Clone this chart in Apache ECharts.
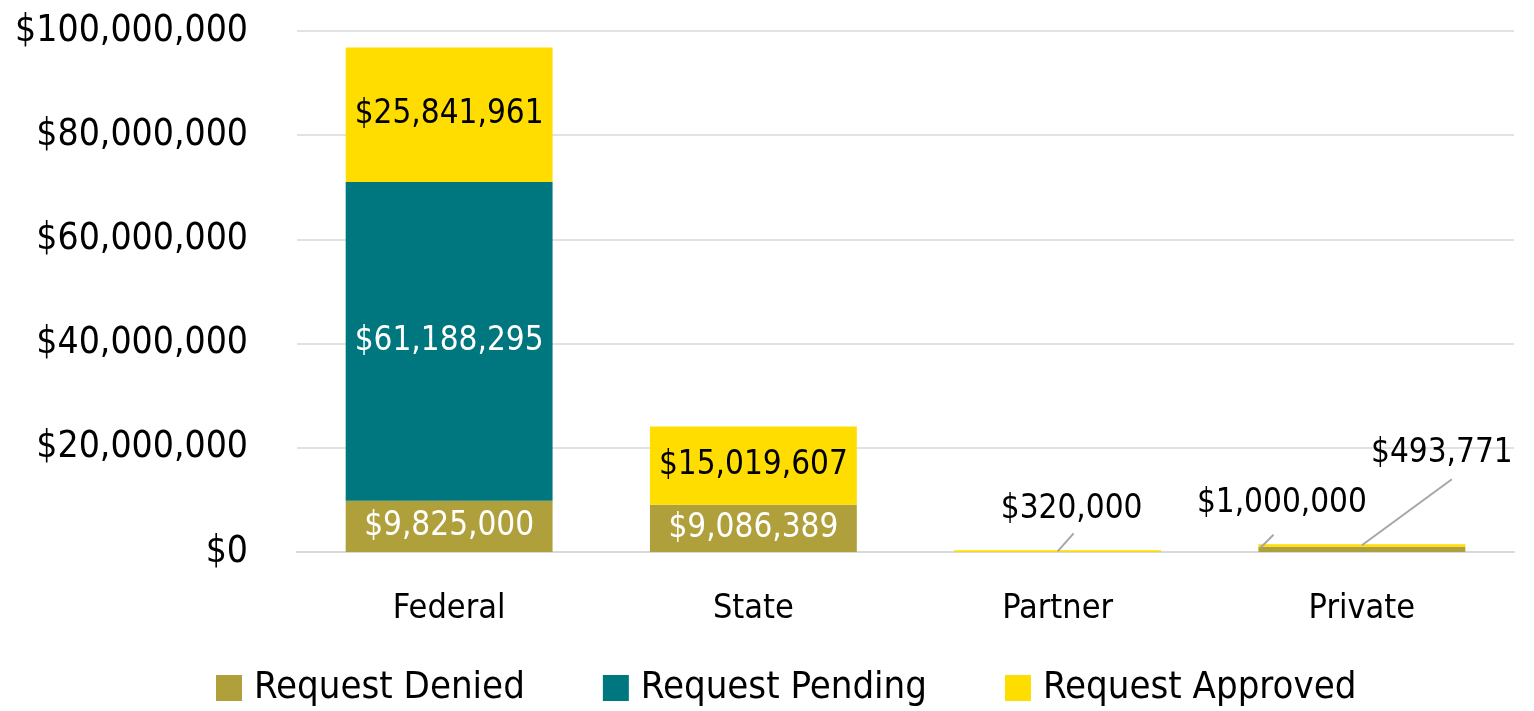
<!DOCTYPE html>
<html>
<head>
<meta charset="utf-8">
<script src="https://cdn.jsdelivr.net/npm/echarts@6/dist/echarts.min.js"></script>
<style>
  html, body { margin: 0; padding: 0; background: #fff; }
  #chart { width: 1534px; height: 711px; }
</style>
</head>
<body>
<div id="chart"></div>
<script>
// 数据
const categories = ['Federal', 'State', 'Partner', 'Private'];
const deniedData = [9825000, 9086389, null, 1000000];
const pendingData = [61188295, null, null, null];
const approvedData = [25841961, 15019607, 320000, 493771];
const yTicks = { min: 0, max: 100000000, interval: 20000000 };

const FONT = '"Liberation Sans Narrow", "DejaVu Sans Condensed", sans-serif';
const allSeries = [deniedData, pendingData, approvedData];

function money(v) {
  return '$' + Math.round(v).toLocaleString('en-US');
}

// 小数值的标签挪到柱子上方，带引导线
// fx: 引导线起点相对柱中心的位置（柱宽比例），lx/ly: 引导线长度（像素）
const moved = {
  '0-3': { dx: -80, dy: -23, fx: -0.49, lx: 13, ly: -13 },
  '2-2': { dx: 14, dy: -20, fx: 0, lx: 16, ly: -18 },
  '2-3': { dx: 80, dy: -70, fx: 0, lx: 90, ly: -66 }
};
const BAR_RATIO = 0.68;

function makeData(arr, seriesIdx) {
  return arr.map((v, i) => {
    if (moved[seriesIdx + '-' + i]) {
      return { value: v, label: { position: 'top', color: '#000', distance: 4 } };
    }
    return v;
  });
}

let chart = echarts.init(document.getElementById('chart'));
let option = {
  animation: false,
  textStyle: { fontFamily: FONT },
  grid: { left: 297, right: 20, top: 31, bottom: 159, outerBoundsMode: 'none' },
  legend: {
    top: 664,
    left: 211,
    icon: 'rect',
    itemWidth: 26,
    itemHeight: 26,
    itemGap: 78,
    textStyle: { fontSize: 38, color: '#000', fontFamily: FONT, padding: [0, 0, 0, 7] },
    data: ['Request Denied', 'Request Pending', 'Request Approved']
  },
  xAxis: {
    type: 'category',
    data: categories,
    axisLine: { lineStyle: { color: '#d9d9d9', width: 2 } },
    axisTick: { show: false },
    axisLabel: { fontSize: 34, color: '#000', margin: 40, fontFamily: FONT }
  },
  yAxis: {
    type: 'value',
    min: yTicks.min,
    max: yTicks.max,
    interval: yTicks.interval,
    axisLine: { show: false },
    axisTick: { show: false },
    splitLine: { lineStyle: { color: '#d9d9d9', width: 1.5 } },
    axisLabel: {
      fontSize: 37, color: '#000', margin: 49, fontFamily: FONT,
      formatter: v => money(v)
    }
  },
  labelLayout: function (p) {
    let m = moved[p.seriesIndex + '-' + p.dataIndex];
    if (!m) return {};
    return { dx: m.dx, dy: m.dy };
  },
  series: [
    {
      name: 'Request Denied',
      type: 'bar',
      stack: 'total',
      barWidth: (BAR_RATIO * 100) + '%',
      itemStyle: { color: '#B0A03C' },
      label: { show: true, position: 'inside', color: '#fff', fontSize: 33, formatter: p => money(p.value) },
      data: makeData(deniedData, 0)
    },
    {
      name: 'Request Pending',
      type: 'bar',
      stack: 'total',
      itemStyle: { color: '#00777E' },
      label: { show: true, position: 'inside', color: '#fff', fontSize: 33, formatter: p => money(p.value) },
      data: makeData(pendingData, 1)
    },
    {
      name: 'Request Approved',
      type: 'bar',
      stack: 'total',
      itemStyle: { color: '#FFDD00' },
      label: { show: true, position: 'inside', color: '#000', fontSize: 33, formatter: p => money(p.value) },
      data: makeData(approvedData, 2)
    }
  ]
};
chart.setOption(option);

// 引导线：用坐标轴换算出柱顶位置
function leaderLines() {
  let p0 = chart.convertToPixel({ gridIndex: 0 }, [0, 0]);
  let p1 = chart.convertToPixel({ gridIndex: 0 }, [1, 0]);
  let band = p1[0] - p0[0];
  let elements = [];
  Object.keys(moved).forEach(key => {
    let [s, i] = key.split('-').map(Number);
    let top = 0;
    for (let k = 0; k <= s; k++) top += allSeries[k][i] || 0;
    let pt = chart.convertToPixel({ gridIndex: 0 }, [i, top]);
    let m = moved[key];
    let x1 = pt[0] + m.fx * band * BAR_RATIO;
    let y1 = pt[1] + 1;
    elements.push({
      type: 'line',
      shape: { x1: x1, y1: y1, x2: x1 + m.lx, y2: y1 + m.ly },
      style: { stroke: '#a6a6a6', lineWidth: 2 },
      z: 10
    });
  });
  chart.setOption({ graphic: elements });
}
leaderLines();
</script>
</body>
</html>
